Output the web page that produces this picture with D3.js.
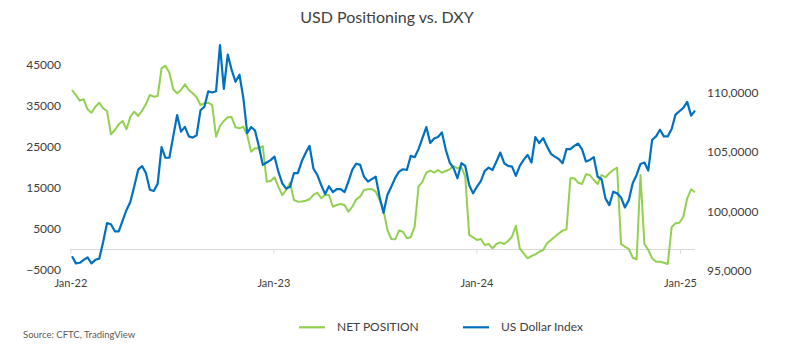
<!DOCTYPE html>
<html>
<head>
<meta charset="utf-8">
<script src="https://cdn.jsdelivr.net/npm/d3@7"></script>
<style>
  html, body { margin: 0; padding: 0; background: #ffffff; }
  svg { display: block; font-family: Lato, "Open Sans", sans-serif; }
</style>
</head>
<body>
<svg id="chart" width="794" height="353"></svg>
<script>
// ---------------- DATA ----------------
const title = "USD Positioning vs. DXY";
const sourceText = "Source: CFTC, TradingView";
const seriesNames = ["NET POSITION", "US Dollar Index"];
const firstWeek = "2022-01-04"; // weekly CFTC report dates (Tuesdays)

// NET POSITION (contracts), weekly
const netPosition = [
  38900, 37680, 36300, 36630, 34190, 33370, 34830, 35800, 34430, 33780,
  28100, 29150, 30530, 31340, 29310, 32400, 33610, 32560, 33860, 35490,
  37680, 37270, 37440, 44190, 44830, 43120, 39070, 38100, 38900, 40290,
  38900, 38100, 37120, 35240, 35660, 35800, 35240, 27510, 30120, 31340,
  32240, 32300, 29800, 29560, 29950, 27930, 23850, 24680, 24680, 25240,
  16540, 16700, 17610, 15320, 13290, 14510, 16290, 12070, 11660, 11700,
  11900, 12240, 13290, 13850, 12490, 13290, 13290, 10440, 10850, 11100,
  10850, 9220, 10440, 12240, 12880, 14510, 14680, 14760, 14100, 12070,
  9630, 4760, 2560, 2490, 4650, 4340, 2730, 3000, 5560, 15320,
  16540, 18730, 19220, 18730, 19390, 18730, 19150, 19560, 20370, 19800,
  20050, 17760, 3540, 2980, 2320, 2560, 1100, 1340, 290, 1340,
  1750, 1340, 2070, 3120, 5800, 290, -930, -2150, -1590, -1170,
  -540, -120, 1510, 2320, 3100, 3900, 4600, 4900, 17370, 17370,
  16290, 15980, 18340, 18170, 16950, 15980, 18170, 17610, 18590, 19390,
  19950, 1340, 680, 120, -2000, -2390, 18170, 1340, -120, -2150,
  -2980, -2980, -3220, -3540, 5410, 6390, 6540, 8000, 12490, 14680,
  13950
];

// US Dollar Index (DXY), weekly
const dollarIndex = [
  96.2, 95.6, 95.65, 95.9, 96.1, 95.6, 95.9, 96.0, 97.4, 99.0,
  98.9, 98.3, 98.3, 99.2, 100.1, 100.8, 102.1, 103.5, 103.8, 103.2,
  101.8, 101.7, 102.3, 105.4, 104.5, 104.5, 106.3, 108.1, 106.7, 107.1,
  106.3, 106.2, 106.4, 108.5, 108.8, 110.1, 110.0, 110.1, 114.0, 110.3,
  113.2, 111.9, 110.9, 111.5, 109.55, 106.58, 107.09, 106.8, 105.45, 103.9,
  104.1, 104.3, 104.6, 103.33, 102.35, 101.9, 102.06, 103.2, 103.2, 104.2,
  104.9, 105.5, 103.6, 103.05, 102.2, 101.44, 102.1, 101.6, 101.86, 101.86,
  101.6, 102.5, 103.5, 104.0, 103.9, 102.9, 102.5, 102.7, 102.9, 101.2,
  99.86, 101.36, 102.06, 102.8, 103.33, 103.53, 103.47, 104.66, 104.55, 105.23,
  106.16, 107.09, 105.74, 106.13, 106.25, 106.64, 105.17, 104.1, 103.62, 102.77,
  104.04, 103.81, 102.2, 101.5, 102.06, 102.54, 103.39, 103.67, 103.47, 104.18,
  104.94, 104.04, 103.81, 103.75, 102.97, 103.81, 104.32, 104.75, 104.1, 106.25,
  105.74, 106.16, 105.45, 104.83, 104.6, 104.4, 104.04, 105.23, 105.23, 105.5,
  105.7, 105.2, 104.18, 104.32, 104.55, 102.9, 102.69, 101.08, 100.51, 101.64,
  101.5, 101.16, 100.31, 100.93, 102.35, 103.05, 103.98, 104.1, 103.42, 106.02,
  106.3, 106.86, 106.3, 106.3, 106.92, 108.14, 108.42, 108.7, 109.21, 108.05,
  108.47
];

// Tick labels
const leftTicks = [-5000, 5000, 15000, 25000, 35000, 45000];
const rightTicks = [95, 100, 105, 110];
const rightTickLabels = ["95,0000", "100,0000", "105,0000", "110,0000"];
const xTickDates = ["2022-01-01", "2023-01-01", "2024-01-01", "2025-01-01"];
const xTickLabels = ["Jan-22", "Jan-23", "Jan-24", "Jan-25"];

// ---------------- CHART ----------------
const svg = d3.select("#chart");
const parse = d3.utcParse("%Y-%m-%d");
const start = parse(firstWeek);
const dates = netPosition.map((_, i) => d3.utcWeek.offset(start, i));

const textColor = "#404040";
const greenColor = "#92D050";
const blueColor = "#0070C0";

const x = d3.scaleUtc()
  .domain([start, dates[dates.length - 1]])
  .range([72, 695]);

const yL = d3.scaleLinear().domain([-5000, 45000]).range([270, 65]);
const yR = d3.scaleLinear().domain([95, 110]).range([270.5, 92.5]);

// Title
svg.append("text")
  .attr("x", 387).attr("y", 23.3)
  .attr("text-anchor", "middle")
  .attr("font-size", 16)
  .attr("fill", textColor)
  .text(title);

// Left axis
const gL = svg.append("g").attr("transform", "translate(61,0)")
  .call(d3.axisLeft(yL).tickValues(leftTicks).tickSize(0).tickPadding(0).tickFormat(d3.format("d")));
gL.select(".domain").remove();
gL.selectAll("text").attr("font-size", 12).attr("fill", textColor).attr("font-family", "Lato, sans-serif");

// Right axis
const gR = svg.append("g").attr("transform", "translate(707,0)")
  .call(d3.axisRight(yR).tickValues(rightTicks).tickSize(0).tickPadding(0)
    .tickFormat((d, i) => rightTickLabels[i]));
gR.select(".domain").remove();
gR.selectAll("text").attr("font-size", 12).attr("fill", textColor).attr("font-family", "Lato, sans-serif");

// X axis at zero of the left scale
const gX = svg.append("g").attr("transform", `translate(0,${yL(0)})`)
  .call(d3.axisBottom(x)
    .tickValues(xTickDates.map(parse))
    .tickSize(4).tickPadding(26)
    .tickFormat((d, i) => xTickLabels[i]));
gX.select(".domain").attr("stroke", "#d9d9d9").attr("stroke-width", 1)
  .attr("d", `M${x(parse(xTickDates[0]))},0H${x.range()[1]}`);
gX.selectAll(".tick line").attr("stroke", "#d9d9d9");
gX.selectAll("text").attr("font-size", 11).attr("fill", textColor).attr("font-family", "Lato, sans-serif");

// Lines
const lineNet = d3.line().x((d, i) => x(dates[i])).y(d => yL(d));
const lineDxy = d3.line().x((d, i) => x(dates[i])).y(d => yR(d));

svg.append("path").datum(netPosition)
  .attr("d", lineNet)
  .attr("fill", "none").attr("stroke", greenColor)
  .attr("stroke-width", 2).attr("stroke-linejoin", "round");

svg.append("path").datum(dollarIndex)
  .attr("d", lineDxy)
  .attr("fill", "none").attr("stroke", blueColor)
  .attr("stroke-width", 2.2).attr("stroke-linejoin", "round");

// Legend
const legend = [
  { name: seriesNames[0], color: greenColor, x: 299 },
  { name: seriesNames[1], color: blueColor, x: 463 }
];
const lg = svg.append("g");
legend.forEach(l => {
  lg.append("line")
    .attr("x1", l.x).attr("x2", l.x + 26)
    .attr("y1", 327.3).attr("y2", 327.3)
    .attr("stroke", l.color).attr("stroke-width", 2.2);
  lg.append("text")
    .attr("x", l.x + 38).attr("y", 331)
    .attr("font-size", 12).attr("fill", textColor)
    .text(l.name);
});

// Source
svg.append("text")
  .attr("x", 23).attr("y", 338)
  .attr("font-size", 9.5)
  .attr("fill", "#595959")
  .text(sourceText);
</script>
</body>
</html>
